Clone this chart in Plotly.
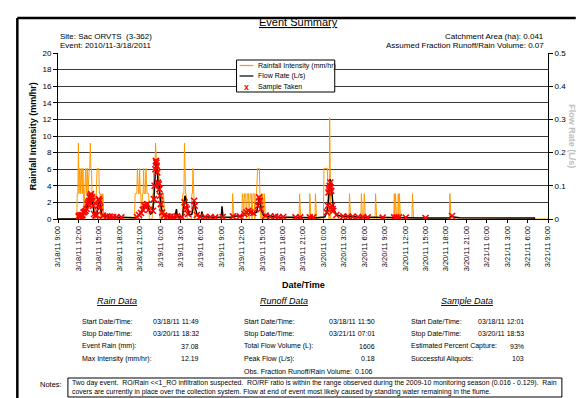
import plotly.graph_objects as go

# ---------------- data ----------------
tick_hours = list(range(0, 73, 3))
tick_labels = ["3/18/11 9:00", "3/18/11 12:00", "3/18/11 15:00", "3/18/11 18:00", "3/18/11 21:00",
               "3/19/11 0:00", "3/19/11 3:00", "3/19/11 6:00", "3/19/11 9:00", "3/19/11 12:00",
               "3/19/11 15:00", "3/19/11 18:00", "3/19/11 21:00", "3/20/11 0:00", "3/20/11 3:00",
               "3/20/11 6:00", "3/20/11 9:00", "3/20/11 12:00", "3/20/11 15:00", "3/20/11 18:00",
               "3/20/11 21:00", "3/21/11 0:00", "3/21/11 3:00", "3/21/11 6:00", "3/21/11 9:00"]

# rainfall: 5-minute intervals (index from 3/18/11 9:00); each digit = number of 0.254 mm tips
rain_unit = 3.048  # mm/hr per tip in a 5-min interval
rain_start_idx = [34, 136, 220, 236, 308, 325, 426, 444, 454, 469, 514, 535, 540, 560, 593, 595, 600, 602, 625, 691]
rain_pattern = [
    "113122122121" + "01221221222322111" + "01101122221101001",
    "1111211121101112111211111" + "000000" + "11222322212210110111",
    "1113111",
    "1121",
    "1",
    "1101111011110111101111011" + "122222100101001",
    "1", "1", "1",
    "222222210041",
    "1", "1", "1", "1", "1", "1", "1", "1", "1", "1",
]

# flow rate (L/s) at hours after 3/18/11 9:00
flow_hours = [0.0, 2.83, 2.9, 3.0, 3.3, 3.6, 3.8, 4.1, 4.3, 4.5, 4.7, 4.85, 5.0, 5.15, 5.3, 5.5, 5.7, 5.85,
              6.0, 6.1, 6.25, 6.4, 6.7, 7.0, 7.5, 8.0, 9.0, 10.0, 11.0, 11.4, 11.7, 12.0, 12.3, 12.5, 12.7,
              12.9, 13.1, 13.3, 13.6, 13.9, 14.1, 14.25, 14.4, 14.55, 14.7, 14.85, 15.0, 15.2, 15.5, 16.0,
              16.5, 17.2, 17.4, 17.55, 18.3, 18.5, 18.65, 18.8, 19.0, 19.3, 19.7, 19.9, 20.0, 20.2, 20.5,
              21.0, 21.15, 21.3, 22.0, 23.0, 24.0, 24.1, 24.25, 25.5, 25.7, 26.5, 27.2, 27.6, 28.0, 28.4,
              28.8, 29.2, 29.4, 29.55, 29.7, 29.9, 30.2, 30.8, 32.0, 34.0, 36.0, 37.0, 38.0, 39.2, 39.5,
              39.7, 39.85, 40.0, 40.15, 40.3, 40.45, 40.7, 41.0, 41.5, 42.5, 44.0, 46.0, 48.0, 50.0, 52.0,
              54.0, 57.0, 57.6, 57.8, 58.1, 59.0, 62.0, 66.0, 70.0, 70.02]
flow_ls = [0.0, 0.0, 0.004, 0.008, 0.01, 0.012, 0.02, 0.025, 0.04, 0.05, 0.065, 0.075, 0.06, 0.04, 0.015, 0.01,
           0.012, 0.03, 0.06, 0.055, 0.03, 0.015, 0.01, 0.008, 0.007, 0.006, 0.005, 0.004, 0.003, 0.004, 0.008,
           0.015, 0.02, 0.03, 0.045, 0.035, 0.045, 0.03, 0.015, 0.02, 0.06, 0.12, 0.18, 0.16, 0.11, 0.1, 0.07,
           0.03, 0.012, 0.008, 0.007, 0.006, 0.03, 0.006, 0.006, 0.04, 0.07, 0.06, 0.03, 0.012, 0.015, 0.04,
           0.055, 0.03, 0.01, 0.007, 0.022, 0.007, 0.006, 0.005, 0.006, 0.038, 0.006, 0.005, 0.008, 0.008,
           0.01, 0.02, 0.025, 0.02, 0.018, 0.02, 0.045, 0.065, 0.05, 0.025, 0.012, 0.008, 0.006, 0.005, 0.004,
           0.005, 0.004, 0.006, 0.02, 0.05, 0.09, 0.12, 0.1, 0.05, 0.035, 0.02, 0.012, 0.009, 0.007, 0.006,
           0.005, 0.004, 0.005, 0.004, 0.003, 0.003, 0.004, 0.01, 0.006, 0.004, 0.004, 0.004, 0.003, 0.0]

# samples taken (hour, flow L/s)
sample_hours = [3.02, 3.15, 3.3, 3.45, 3.6, 3.75, 3.9, 4.05, 4.2, 4.35, 4.45, 4.55, 4.65, 4.75, 4.85, 4.95,
                5.05, 5.15, 5.3, 5.5, 5.7, 5.9, 6.0, 6.1, 6.2, 6.6, 7.2, 7.6, 8.1, 8.6, 9.3,
                11.6, 11.9, 12.2, 12.45, 12.65, 12.9, 13.1, 13.35, 13.95, 14.1, 14.2, 14.3, 14.38, 14.45,
                14.52, 14.6, 14.7, 14.8, 14.9, 15.0, 15.1, 15.3, 15.6, 16.1, 16.55, 17.0, 17.5, 18.2,
                18.6, 18.75, 18.95, 19.1, 20.0, 20.1, 20.4, 20.9, 21.6, 22.4, 23.1, 24.2,
                25.7, 26.7, 27.4, 27.7, 28.0, 28.3, 28.7, 29.4, 29.55, 29.65, 29.8, 30.5, 31.2, 31.9,
                32.4, 33.1, 34.9, 35.6, 37.0, 37.5,
                39.5, 39.65, 39.75, 39.85, 39.92, 40.0, 40.08, 40.15, 40.25, 40.35, 40.45, 40.9, 41.9,
                42.6, 43.3, 44.1, 44.8, 45.5, 47.7, 49.4, 49.75, 50.1, 51.1, 54.0, 57.9]
sample_ls = [0.008, 0.01, 0.01, 0.011, 0.012, 0.02, 0.022, 0.025, 0.03, 0.045, 0.05, 0.055, 0.065, 0.07, 0.075,
             0.065, 0.055, 0.04, 0.015, 0.01, 0.012, 0.04, 0.06, 0.055, 0.035, 0.01, 0.008, 0.007, 0.006, 0.006,
             0.005,
             0.006, 0.012, 0.018, 0.028, 0.042, 0.035, 0.045, 0.028, 0.025, 0.06, 0.1, 0.15, 0.175, 0.17,
             0.16, 0.14, 0.11, 0.105, 0.09, 0.07, 0.045, 0.02, 0.01, 0.008, 0.007, 0.006, 0.008, 0.006,
             0.05, 0.035, 0.03, 0.015, 0.055, 0.04, 0.012, 0.007, 0.006, 0.006, 0.005, 0.006,
             0.008, 0.008, 0.015, 0.02, 0.025, 0.02, 0.018, 0.04, 0.065, 0.055, 0.03, 0.01, 0.008, 0.007,
             0.006, 0.006, 0.005, 0.005, 0.005, 0.005,
             0.02, 0.04, 0.08, 0.09, 0.1, 0.11, 0.095, 0.085, 0.04, 0.03, 0.025, 0.012, 0.008,
             0.007, 0.007, 0.006, 0.006, 0.005, 0.004, 0.005, 0.005, 0.005, 0.004, 0.003, 0.009]

# ---------------- expand rainfall to a 5-min series ----------------
n_int = 72 * 12
rain_vals = [0.0] * (n_int + 1)
for s, pat in zip(rain_start_idx, rain_pattern):
    for k, ch in enumerate(pat):
        rain_vals[s + k] = int(ch) * rain_unit
rain_hours = [i / 12 for i in range(n_int + 1)]

# ---------------- layout geometry (pixels) ----------------
W_, H_ = 578, 398
L, R, T, B = 58, 552, 53, 219
PW, PH = R - L, B - T


def px(x):
    return (x - L) / PW


def py(y):
    return (B - y) / PH


FONT = "Arial, Liberation Sans, sans-serif"
ORANGE = "#FF9900"

fig = go.Figure()
fig.add_trace(go.Scatter(x=rain_hours, y=rain_vals, mode="lines",
                         line=dict(color=ORANGE, width=1), name="Rainfall Intensity (mm/hr)"))
fig.add_trace(go.Scatter(x=flow_hours, y=flow_ls, mode="lines", yaxis="y2",
                         line=dict(color="black", width=1.5), name="Flow Rate (L/s)"))
fig.add_trace(go.Scatter(x=sample_hours, y=sample_ls, mode="markers", yaxis="y2",
                         marker=dict(symbol="x-thin", size=6, line=dict(color="#FF0000", width=1.6)),
                         name="Sample Taken"))

fig.update_layout(
    width=W_, height=H_, showlegend=False,
    margin=dict(l=L, r=W_ - R, t=T, b=H_ - B, pad=0),
    paper_bgcolor="white", plot_bgcolor="white",
    font=dict(family=FONT, size=8, color="black"),
    xaxis=dict(range=[0, 72], tickmode="array", tickvals=tick_hours, ticktext=tick_labels,
               tickangle=-90, tickfont=dict(size=7.5), ticks="outside", ticklen=3, tickcolor="black",
               showline=True, linecolor="black", linewidth=1, showgrid=False, zeroline=False),
    yaxis=dict(range=[0, 20], dtick=2, ticks="outside", ticklen=4, tickcolor="black",
               showline=True, linecolor="black", linewidth=1, gridcolor="#3a3a3a", gridwidth=1,
               zeroline=False, tickfont=dict(size=8)),
    yaxis2=dict(range=[0, 0.5], overlaying="y", side="right", tickmode="array",
                tickvals=[0, 0.1, 0.2, 0.3, 0.4, 0.5], ticktext=["0", "0.1", "0.2", "0.3", "0.4", "0.5"],
                ticks="outside", ticklen=4, tickcolor="black", showline=True, linecolor="black",
                linewidth=1, showgrid=False, zeroline=False, tickfont=dict(size=8)),
)

ann = []


def text(x, y, s, size=7, xanchor="left", **kw):
    ann.append(dict(x=px(x), y=py(y), xref="paper", yref="paper", text=s, showarrow=False,
                    xanchor=xanchor, yanchor="middle", font=dict(family=FONT, size=size,
                                                                 color=kw.pop("color", "black")), **kw))


# header
text(300, 22, "<u>Event Summary</u>", size=11, xanchor="center")
text(L, 36, "Site: Sac ORVTS  (3-362)", size=8)
text(L, 45, "Event: 2010/11-3/18/2011", size=8)
text(R - 2, 36, "Catchment Area (ha): 0.041", size=8, xanchor="right")
text(R - 2, 45, "Assumed Fraction Runoff/Rain Volume: 0.07", size=8, xanchor="right")

# axis titles
text(33, (T + B) / 2, "<b>Rainfall Intensity (mm/hr)</b>", size=9, xanchor="center", textangle=-90)
text(576, (T + B) / 2, "<b>Flow Rate (L/s)</b>", size=9, xanchor="center", textangle=90,
     color="#c0c0c0")
text((L + R) / 2, 285, "<b>Date/Time</b>", size=9, xanchor="center")

# legend (drawn box)
LX0, LX1, LY0, LY1 = 238, 337, 60, 92
legend_rows = [(65.5, "Rainfall Intensity (mm/hr)"), (76, "Flow Rate (L/s)"), (86.5, "Sample Taken")]
for yy, s in legend_rows:
    text(258, yy, s, size=7)
ann.append(dict(x=px(248), y=py(86.5), xref="paper", yref="paper", text="<b>x</b>", showarrow=False,
                xanchor="center", yanchor="middle", font=dict(family=FONT, size=9, color="#FF0000")))

# data tables
rows_y = [321, 333.5, 346, 358.5, 371]
text(117, 301, "<i><u>Rain Data</u></i>", size=9, xanchor="center")
text(286, 301, "<i><u>Runoff Data</u></i>", size=9, xanchor="center")
text(470, 301, "<i><u>Sample Data</u></i>", size=9, xanchor="center")

rain_tab = [("Start Date/Time:", "03/18/11 11:49"), ("Stop Date/Time:", "03/20/11 18:32"),
            ("Event Rain (mm):", "37.08"), ("Max Intensity (mm/hr):", "12.19")]
runoff_tab = [("Start Date/Time:", "03/18/11 11:50"), ("Stop Date/Time:", "03/21/11 07:01"),
              ("Total Flow Volume (L):", "1606"), ("Peak Flow (L/s):", "0.18"),
              ("Obs. Fraction Runoff/Rain Volume:", "0.106")]
sample_tab = [("Start Date/Time:", "03/18/11 12:01"), ("Stop Date/Time:", "03/20/11 18:53"),
              ("Estimated Percent Capture:", "93%"), ("Successful Aliquots:", "103")]
TS = 7
for i, (a, b) in enumerate(rain_tab):
    text(80, rows_y[i], a, size=TS)
    text(202, rows_y[i], b, xanchor="right", size=TS)
for i, (a, b) in enumerate(runoff_tab):
    text(244, rows_y[i], a, size=TS)
    text(380 if i < 4 else 378, rows_y[i], b, xanchor="right", size=TS)
for i, (a, b) in enumerate(sample_tab):
    text(412, rows_y[i], a, size=TS)
    text(530, rows_y[i], b, xanchor="right", size=TS)

# notes
text(64, 384, "Notes:", size=7.5, xanchor="right")
text(70, 383, "Two day event.  RO/Rain <<1_RO infiltration suspected.  RO/RF ratio is within the range observed "
              "during the 2009-10 monitoring season (0.016 - 0.129).  Rain", size=6.9)
text(70, 391.5, "covers are currently in place over the collection system. Flow at end of event most likely "
                "caused by standing water remaining in the flume.", size=6.9)

shapes = []


def line(x0, y0, x1, y1, color="black", width=1):
    shapes.append(dict(type="line", xref="paper", yref="paper", x0=px(x0), y0=py(y0), x1=px(x1), y1=py(y1),
                       line=dict(color=color, width=width)))


# page frame
line(17, 18, 17, 400, width=2.5)
line(17, 18, 580, 18, width=2.5)
# legend box
shapes.append(dict(type="rect", xref="paper", yref="paper", x0=px(LX0), y0=py(LY1), x1=px(LX1), y1=py(LY0),
                   line=dict(color="black", width=1), fillcolor="white", layer="above"))
line(241, 65.5, 255, 65.5, color=ORANGE, width=1.2)
line(241, 76, 255, 76, color="black", width=1.2)
# notes box
shapes.append(dict(type="rect", xref="paper", yref="paper", x0=px(68), y0=py(397), x1=px(566), y1=py(378),
                   line=dict(color="black", width=1), fillcolor="rgba(0,0,0,0)"))

fig.update_layout(annotations=ann, shapes=shapes)
fig.write_html("out.html", config={"displayModeBar": False},
               post_script="document.body.style.margin='0px';")
